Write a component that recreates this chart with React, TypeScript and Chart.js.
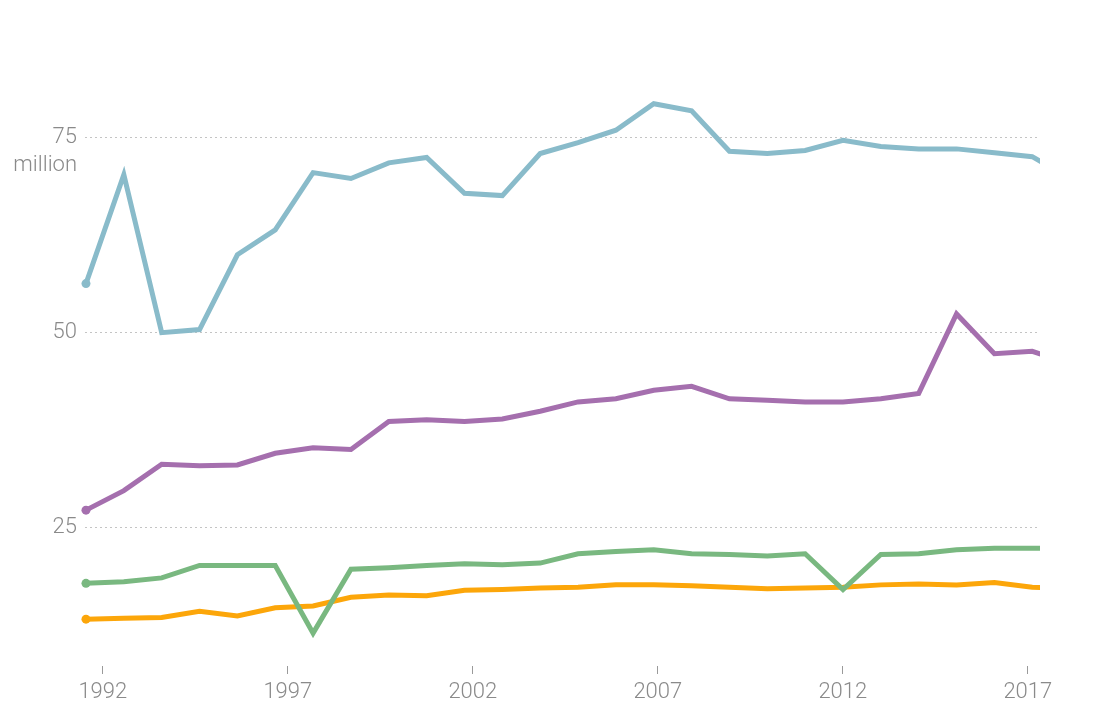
import React, { useEffect, useRef } from "react";
import { Chart, registerables } from "chart.js";

Chart.register(...registerables);

// Point years (one point per year)
const years = [
  1992, 1993, 1994, 1995, 1996, 1997, 1998, 1999, 2000, 2001, 2002, 2003, 2004,
  2005, 2006, 2007, 2008, 2009, 2010, 2011, 2012, 2013, 2014, 2015, 2016, 2017, 2018,
];

const blueSeries = [
  56.3, 70.3, 50.0, 50.4, 60.0, 63.2, 70.55, 69.8, 71.8, 72.5, 67.9, 67.6, 73.0,
  74.4, 76.0, 79.4, 78.5, 73.3, 73.0, 73.4, 74.7, 73.9, 73.6, 73.6, 73.1, 72.6, 69.8,
];
const purpleSeries = [
  27.2, 29.7, 33.1, 32.9, 33.0, 34.5, 35.2, 35.0, 38.6, 38.8, 38.6, 38.9, 39.9,
  41.1, 41.5, 42.6, 43.1, 41.5, 41.3, 41.1, 41.1, 41.5, 42.2, 52.4, 47.3, 47.6, 46.0,
];
const greenSeries = [
  17.8, 18.0, 18.5, 20.1, 20.1, 20.1, 11.4, 19.6, 19.8, 20.1, 20.3, 20.2, 20.4,
  21.6, 21.9, 22.1, 21.6, 21.5, 21.3, 21.6, 17.0, 21.5, 21.6, 22.1, 22.3, 22.3, 22.3,
];
const orangeSeries = [
  13.2, 13.3, 13.4, 14.2, 13.6, 14.65, 14.9, 16.0, 16.3, 16.2, 16.9, 17.0, 17.2,
  17.3, 17.6, 17.6, 17.5, 17.3, 17.1, 17.2, 17.3, 17.6, 17.7, 17.6, 17.9, 17.3, 17.1,
];

const xTickYears = [1992, 1997, 2002, 2007, 2012, 2017];
const yTickValues = [25, 50, 75];
const unitLabel = "million";

const colors = {
  blue: "#89bbca",
  purple: "#a56fae",
  green: "#79b880",
  orange: "#fca60a",
};

const FONT = "Roboto";
const LABEL_COLOR = "#8a8a8a";

export default function App() {
  const ref = useRef<HTMLCanvasElement | null>(null);

  useEffect(() => {
    document.body.style.margin = "0";
    const canvas = ref.current;
    if (!canvas) return;

    const mk = (label: string, values: number[], color: string) => ({
      label,
      data: values.map((v, i) => ({ x: years[i], y: v })),
      borderColor: color,
      backgroundColor: color,
      borderWidth: 5,
      pointRadius: (c: any) => (c.dataIndex === 0 ? 4.5 : 0),
      pointHoverRadius: 0,
      pointBorderWidth: 0,
      pointBackgroundColor: color,
      tension: 0,
      clip: { left: 10, top: 10, right: 0, bottom: 10 },
      xAxisID: "x",
      yAxisID: "y",
    });

    const unitPlugin = {
      id: "unitLabel",
      afterDraw(chart: any) {
        const ctx = chart.ctx;
        const y = chart.scales.y.getPixelForValue(75);
        ctx.save();
        ctx.font = `300 22px ${FONT}`;
        ctx.fillStyle = LABEL_COLOR;
        ctx.textAlign = "right";
        ctx.textBaseline = "middle";
        ctx.fillText(unitLabel, chart.chartArea.left - 8, y + 28);
        ctx.restore();
      },
    };

    const chart = new Chart(canvas, {
      type: "line",
      data: {
        datasets: [
          mk("blue", blueSeries, colors.blue),
          mk("purple", purpleSeries, colors.purple),
          mk("green", greenSeries, colors.green),
          mk("orange", orangeSeries, colors.orange),
        ],
      },
      options: {
        animation: false,
        responsive: false,
        events: [],
        layout: { padding: { top: 20, right: 62, left: 0, bottom: 0 } },
        plugins: {
          legend: { display: false },
          tooltip: { enabled: false },
        },
        scales: {
          x: {
            type: "linear",
            display: false,
            min: 1991.974,
            max: 2017.205,
          },
          x2: {
            type: "linear",
            position: "bottom",
            min: 1991.519,
            max: 2017.33,
            afterBuildTicks: (s: any) => {
              s.ticks = xTickYears.map((v) => ({ value: v }));
            },
            afterFit: (s: any) => {
              s.height = 55;
            },
            border: { display: false },
            grid: {
              drawOnChartArea: false,
              drawTicks: true,
              tickLength: 8,
              color: "#9a9a9a",
              lineWidth: 1,
            },
            ticks: {
              padding: 5,
              color: LABEL_COLOR,
              font: { family: FONT, size: 22, weight: "300" as any },
              maxRotation: 0,
              autoSkip: false,
              callback: (v: any) => String(v),
            },
          },
          y: {
            type: "linear",
            min: 7.18,
            max: 90,
            afterBuildTicks: (s: any) => {
              s.ticks = yTickValues.map((v) => ({ value: v }));
            },
            afterFit: (s: any) => {
              s.width = 85;
            },
            border: { display: false, dash: [2, 3] },
            grid: {
              color: "#c4c4c4",
              lineWidth: 1,
              drawTicks: false,
            },
            ticks: {
              padding: 8,
              color: LABEL_COLOR,
              font: { family: FONT, size: 22, weight: "300" as any },
              callback: (v: any) => String(v),
            },
          },
        },
      },
      plugins: [unitPlugin],
    });

    return () => chart.destroy();
  }, []);

  return (
    <div style={{ width: 1102, height: 721 }}>
      <canvas ref={ref} width={1102} height={721} style={{ display: "block" }} />
    </div>
  );
}
